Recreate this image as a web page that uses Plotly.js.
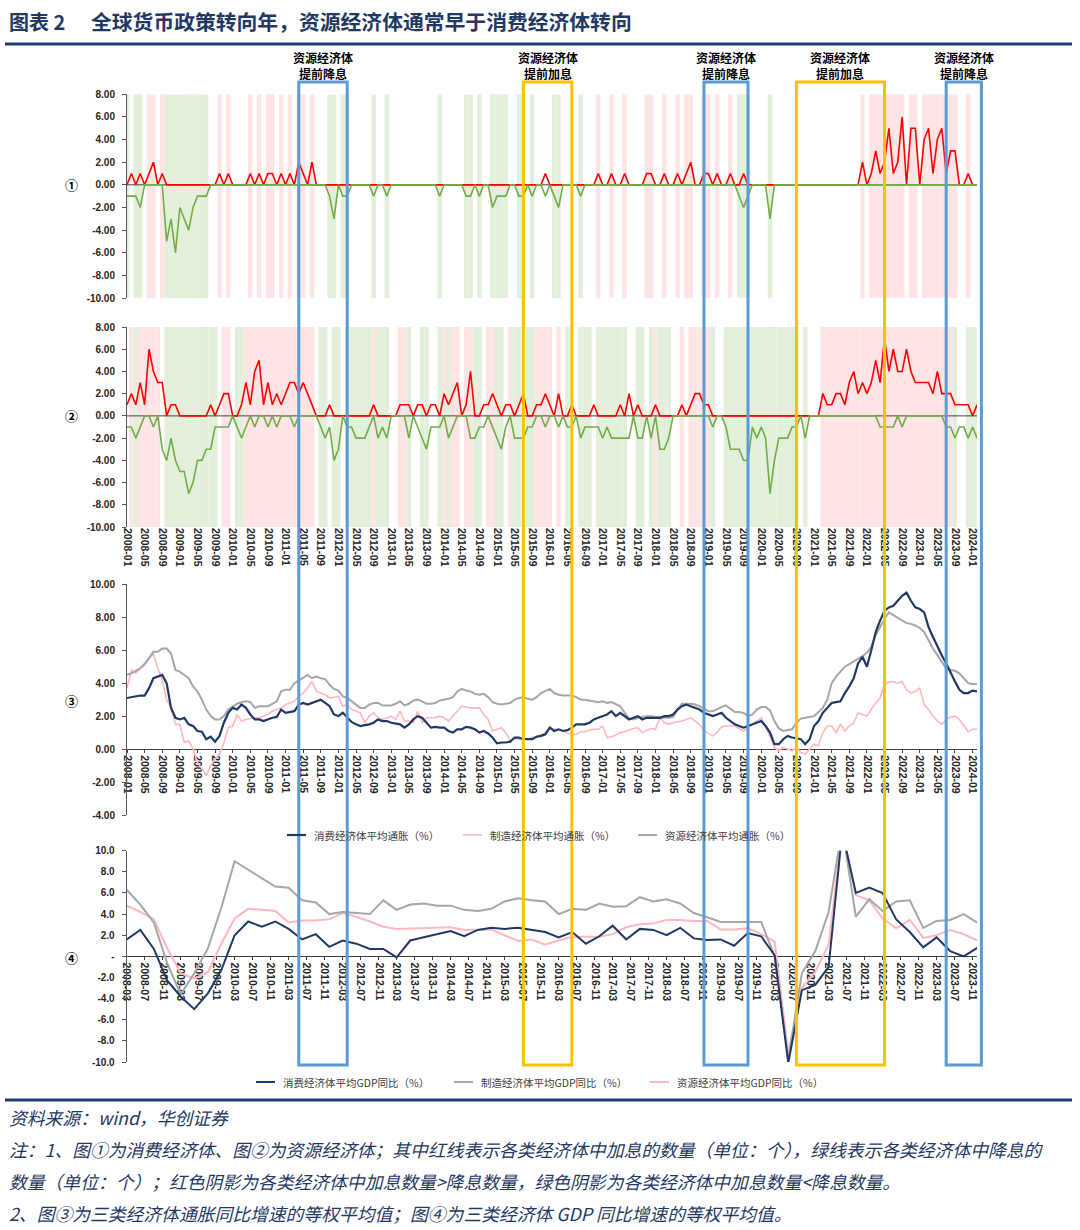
<!DOCTYPE html>
<html><head><meta charset="utf-8">
<script src="https://cdn.plot.ly/plotly-3.0.1.min.js"></script>
<style>html,body{margin:0;padding:0;background:#fff;}#chart{width:1080px;height:1230px;}</style>
</head><body><div id="chart"></div>
<script>
// ---------- categories ----------
const months = [];
for (let y = 2008; y <= 2024; y++) for (let m = 1; m <= 12; m++) if (months.length < 194) months.push(y + '-' + String(m).padStart(2, '0'));
const quarters = [];
for (let y = 2008; y <= 2023; y++) for (const m of [3, 6, 9, 12]) quarters.push(y + '-' + String(m).padStart(2, '0'));

// ---------- panel 1: consumer economies (hikes / cuts count) ----------
const consHikes = [0,1,0,1,0,1,2,0,1,0,0,0, 0,0,0,0,0,0,0,0,0,1,0,1, 0,0,0,0,1,0,1,0,1,1,0,1, 0,1,0,2,1,0,2,0,0,0,0,0,
 0,0,0,0,0,0,0,0,0,0,0,0, 0,0,0,0,0,0,0,0,0,0,0,0, 0,0,0,0,0,0,0,0,0,0,0,0, 0,0,0,0,0,0,0,0,0,0,0,1,
 0,0,0,0,0,0,0,0,0,0,0,1, 0,0,1,0,0,1,0,0,0,0,1,1, 0,0,1,0,0,1,0,1,2,0,0,1, 1,0,1,0,0,1,0,0,1,0,0,0,
 0,0,0,0,0,0,0,0,0,0,0,0, 0,0,0,0,0,0,0,0,0,0,0,2, 0,1,3,1,2,5,1,2,6,0,5,5, 0,4,5,1,4,5,1,3,3,0,0,1, 0,0];
const consCuts = [-1,-1,-1,-2,0,0,0,0,0,-5,-3,-6, -2,-3,-4,-2,-1,-1,-1,0,0,0,0,0, 0,0,0,0,0,0,0,0,0,0,0,0, 0,0,0,0,0,0,0,0,0,0,-1,-3,
 0,-1,-1,0,0,0,0,0,-1,0,0,-1, 0,0,0,0,0,0,0,0,0,0,0,-1, 0,0,0,0,0,-1,-1,0,-1,0,0,-2, -1,-1,-1,0,0,-1,-1,0,-1,0,0,-1,
 0,-1,-2,0,0,0,0,-1,0,0,0,0, 0,0,0,0,0,0,0,0,0,0,0,0, 0,0,0,0,0,0,0,0,0,0,0,0, 0,0,0,0,0,0,0,-1,-2,-1,0,0,
 0,0,-3,0,0,0,0,0,0,0,0,0, 0,0,0,0,0,0,0,0,0,0,0,0, 0,0,0,0,0,0,0,0,0,0,0,0, 0,0,0,0,0,0,0,0,0,0,0,0, 0,0];

// ---------- panel 2: resource economies ----------
const resHikes = [1,2,1,3,1,6,4,3,3,0,1,1, 0,0,0,0,0,0,0,1,0,1,2,2, 0,0,1,3,1,4,5,1,3,1,2,1, 2,3,3,2,3,2,1,0,0,0,1,0,
 0,0,0,0,0,0,0,0,1,0,0,0, 0,0,1,1,1,0,1,1,0,1,1,0, 2,1,2,3,0,1,4,0,0,1,1,2, 1,0,1,1,0,1,2,0,0,1,1,2,
 1,0,2,0,0,1,0,0,0,0,1,0, 0,0,0,0,1,0,2,0,1,0,0,0, 1,0,0,0,0,0,1,0,1,2,2,1, 1,0,0,0,0,0,0,0,0,0,0,0,
 0,0,0,0,0,0,0,0,0,0,0,0, 0,0,2,1,1,2,2,1,3,4,2,3, 2,3,5,3,7,4,6,4,4,6,4,3, 3,3,3,2,4,2,2,2,1,1,1,1, 0,1];
const resCuts = [-1,-1,-2,-1,0,0,-1,0,-3,-4,-2,-4, -5,-5,-7,-6,-4,-4,-3,-3,-1,-1,-1,-1, 0,-1,-2,-1,0,-1,0,0,-1,0,-1,0, 0,0,-1,0,0,0,0,0,-1,-2,-1,-4,
 -3,0,-1,-1,-2,-2,-2,-1,0,-2,-1,-2, 0,0,0,0,-2,0,-1,-2,-3,-1,-1,-1, 0,-2,-1,0,0,0,-2,-2,-1,-1,0,-1, -2,-3,-1,0,-2,-2,-2,-1,-1,0,0,-1,
 0,0,-1,0,-1,-1,0,-2,-1,-1,-1,-1, -2,-1,-2,-2,-2,-2,-2,0,-2,-2,0,-2, 0,-3,-3,-2,0,0,0,0,0,0,0,0, 0,-1,0,0,-1,-3,-3,-3,-4,-4,-1,-2,
 -1,-2,-7,-4,-2,-2,-2,-1,-1,0,-2,0, 0,0,0,0,0,0,0,0,0,0,0,0, 0,0,0,-1,-1,-1,-1,0,-1,0,0,0, 0,0,0,0,0,0,-1,-1,-2,-1,-1,-2, -1,-2];

// ---------- panel 3: average inflation (%) ----------
const cpiCons = [3.1,3.15,3.2,3.25,3.25,3.7,4.3,4.4,4.5,4.0,2.5,1.9, 1.8,1.9,1.5,1.4,1.1,1.05,0.6,0.75,0.45,0.8,1.6,2.2,
 2.5,2.4,2.7,2.5,2.1,1.8,1.8,1.7,1.8,1.9,1.95,2.4, 2.2,2.25,2.3,2.7,2.8,2.7,2.8,2.9,3.0,2.8,2.6,2.1,
 2.0,2.2,1.9,1.65,1.5,1.4,1.45,1.5,1.6,1.8,1.7,1.7, 1.6,1.55,1.5,1.3,1.5,1.8,2.0,1.9,1.6,1.3,1.35,1.3,
 1.3,1.1,1.0,1.2,1.2,1.35,1.3,1.2,1.0,1.1,0.95,0.7, 0.35,0.4,0.4,0.45,0.7,0.7,0.6,0.6,0.6,0.75,0.8,0.9,
 1.3,1.1,1.2,1.1,1.15,1.3,1.5,1.5,1.5,1.6,1.8,1.9, 2.0,2.1,2.3,2.0,2.2,2.0,1.8,1.9,2.0,1.8,1.9,1.9,
 1.9,1.9,2.0,2.0,2.1,2.4,2.6,2.7,2.6,2.5,2.4,2.2, 2.1,2.0,2.1,2.2,1.9,1.7,1.5,1.4,1.3,1.4,1.5,1.6,
 1.7,1.4,1.0,0.3,0.3,0.6,0.8,0.7,0.65,0.6,0.3,0.6, 1.4,1.7,2.2,2.5,2.8,2.85,2.9,3.4,3.8,4.3,5.2,5.6,
 5.0,6.0,7.1,7.8,8.4,8.6,8.7,9.0,9.3,9.5,9.0,8.6, 8.5,8.3,7.4,6.8,6.2,5.7,5.2,4.6,4.1,3.6,3.4,3.4, 3.55,3.5];
const cpiManu = [3.7,4.8,4.6,4.9,5.2,5.5,5.8,4.9,4.2,3.0,2.5,1.5, 1.5,0.4,0.5,0.0,-0.8,-1.2,-1.6,-1.0,-0.6,-0.3,0.4,1.3,
 1.4,2.1,1.7,1.8,1.85,1.9,1.9,2.0,2.1,2.3,2.4,2.5, 2.7,2.8,2.9,3.2,3.4,3.7,4.1,3.5,3.4,3.3,3.1,3.15,
 3.2,2.6,2.7,2.4,2.3,2.2,1.6,2.0,2.2,1.9,1.8,1.9, 2.0,1.8,2.3,1.7,1.7,1.6,2.3,1.6,1.9,1.9,1.9,2.0,
 1.9,1.7,2.0,2.3,2.6,2.55,2.5,2.5,2.5,2.1,1.8,1.1, 1.2,1.3,1.0,0.5,0.65,0.6,0.6,0.6,0.7,0.8,0.85,1.0,
 1.3,1.2,1.2,1.1,1.0,0.85,0.9,1.05,1.05,1.15,1.2,1.2, 1.4,0.7,0.75,0.85,1.0,1.05,1.15,1.25,1.3,1.0,1.15,1.25,
 1.2,1.9,1.6,1.5,1.6,1.65,1.7,1.8,1.9,1.7,1.5,1.1, 0.95,0.8,1.0,1.35,1.4,1.4,1.4,1.25,1.1,1.3,1.5,1.7,
 1.9,1.4,0.7,0.1,-0.1,0.1,0.0,-0.1,0.1,-0.2,-0.3,0.0, 0.3,0.2,1.0,1.4,1.4,1.0,1.5,1.1,1.4,1.6,2.2,2.1,
 2.0,2.4,2.8,3.1,4.0,4.05,4.1,4.0,4.1,3.6,3.4,3.5, 3.7,2.7,2.4,2.0,1.7,1.5,1.8,1.95,2.0,1.8,1.4,1.05, 1.2,1.2];
const cpiRes = [4.5,4.6,4.75,4.9,5.15,5.5,5.9,5.9,6.1,6.1,5.8,4.8, 4.7,4.5,4.3,3.8,3.5,3.0,2.4,2.0,1.8,1.8,2.0,2.4,
 2.6,2.75,2.85,2.9,2.85,2.5,2.6,2.6,2.6,2.75,2.9,3.5, 3.6,3.6,4.0,4.15,4.3,4.5,4.3,4.4,4.3,4.25,3.9,3.65,
 3.55,3.2,3.1,2.9,2.7,2.5,2.5,2.7,2.8,2.8,2.65,2.65, 2.65,2.75,2.9,2.65,2.75,2.95,3.0,2.9,2.75,2.75,2.8,2.95,
 3.0,3.05,3.15,3.5,3.65,3.55,3.5,3.35,3.3,3.35,3.15,2.85, 2.75,2.7,2.75,2.8,3.0,3.1,3.15,3.05,3.0,3.15,3.4,3.55,
 3.65,3.4,3.3,3.25,3.25,3.25,3.15,3.0,3.0,2.95,2.9,2.85, 2.9,2.8,2.85,2.7,2.6,2.2,1.85,1.8,1.9,1.95,2.0,2.0,
 1.95,1.95,1.9,1.9,1.95,2.4,2.75,2.75,2.75,2.7,2.6,2.45, 2.3,2.3,2.45,2.55,2.65,2.45,2.25,2.25,2.2,2.0,2.1,2.4,
 2.55,2.55,2.35,1.7,1.25,1.1,1.15,1.2,1.6,1.85,1.9,1.95, 2.0,2.25,2.5,3.0,4.0,4.4,4.7,5.0,5.15,5.3,5.5,5.65,
 5.85,6.2,6.9,7.4,7.9,8.3,8.15,8.0,7.85,7.65,7.6,7.5, 7.35,7.1,6.6,6.1,5.7,5.3,4.9,4.8,4.75,4.6,4.3,4.0, 3.95,3.95];

// ---------- panel 4: average GDP yoy (%), quarterly ----------
const gdpCons = [1.6,2.5,0.7,-2.3, -3.8,-5.0,-3.5,-1.3, 2.0,3.3,2.8,3.3, 2.6,1.6,2.1,0.9, 1.5,1.2,0.7,0.7, -0.1,1.5,1.8,2.1,
 2.4,1.9,2.5,2.7, 2.6,2.7,2.5,2.3, 1.8,2.3,1.2,1.9, 2.9,1.6,2.6,2.5, 2.0,2.7,1.7,1.55, 1.6,1.0,2.2,1.9,
 0.1,-10.1,-3.2,-2.7, -1.0,11.8,6.0,6.5, 6.0,3.5,2.3,0.85, 1.8,0.5,0.0,0.8];
const gdpManu = [6.3,4.9,3.2,-0.7, -3.6,-1.6,0.75,4.6, 9.0,8.2,7.4,6.6, 6.5,5.3,5.1,4.0, 4.2,4.1,4.0,5.3, 4.4,4.9,5.0,4.8,
 4.8,4.4,4.3,4.5, 5.2,5.5,5.3,5.2, 4.0,4.5,4.4,5.0, 4.7,4.75,5.6,5.2, 5.4,5.0,4.1,3.7, 3.25,3.25,3.25,3.25,
 0.0,-9.7,-1.6,0.5, 4.2,12.2,3.75,5.4, 4.3,5.2,5.3,2.7, 3.35,3.45,4.0,3.2];
const gdpRes = [4.8,4.2,3.5,0.75, -1.6,-2.1,-1.5,1.2, 3.6,4.5,4.4,4.3, 3.2,3.4,3.4,3.5, 4.1,3.75,3.3,2.8, 2.6,2.65,2.7,2.75,
 2.75,2.5,2.5,2.55, 2.0,1.45,1.6,1.1, 1.5,1.85,1.85,1.85, 2.1,2.75,3.05,3.1, 3.45,3.45,3.35,3.35, 2.55,2.55,2.65,2.1,
 1.4,-9.2,-3.0,-1.45, 1.1,12.0,5.8,5.3, 3.6,2.65,3.45,1.75, 2.0,2.5,2.1,1.5];

// ---------- labels ----------
const cpiNames = ['消费经济体平均通胀（%）', '制造经济体平均通胀（%）', '资源经济体平均通胀（%）'];
const gdpNames = ['消费经济体平均GDP同比（%）', '制造经济体平均GDP同比（%）', '资源经济体平均GDP同比（%）'];
const boxStart = ['2011-04', '2015-07', '2018-12', '2020-09', '2023-07'];
const boxEnd   = ['2012-03', '2016-06', '2019-10', '2022-05', '2024-03'];
const boxKind  = ['cut', 'hike', 'cut', 'hike', 'cut'];
const boxText  = {cut: '资源经济体<br>提前降息', hike: '资源经济体<br>提前加息'};
const titleText = '全球货币政策转向年，资源经济体通常早于消费经济体转向';
const notes = ['资料来源：wind，华创证券',
 '注：1、图①为消费经济体、图②为资源经济体；其中红线表示各类经济体中加息的数量（单位：个），绿线表示各类经济体中降息的',
 '数量（单位：个）；红色阴影为各类经济体中加息数量>降息数量，绿色阴影为各类经济体中加息数量<降息数量。',
 '2、图③为三类经济体通胀同比增速的等权平均值；图④为三类经济体 GDP 同比增速的等权平均值。'];

// ---------- style ----------
const W = 1080, H = 1230;
const px = v => v / W, py = v => 1 - v / H;
const COL = {red: '#FF0000', green: '#70AD47', shPink: '#FFE4E6', shGreen: '#E2EFDA', navy: '#203864',
  pink: '#FFB7BE', gray: '#A6A6A6', blue: '#5B9BD5', yellow: '#FFC000', head: '#1F3C78', note: '#1F3864'};
const NUM = 'Liberation Sans, Arial, sans-serif';
const CJK = 'Noto Sans CJK SC, sans-serif';
const idx = s => (+s.slice(0, 4) - 2008) * 12 + (+s.slice(5, 7) - 1);

const D1 = [py(298), py(94.3)], D2 = [py(527), py(327)], D3 = [py(815), py(584.3)], D4 = [py(1062), py(850.7)];
const XD = [px(127), px(977)], XD4 = [px(126.7), px(977.2)];
const zeroPos = (d, r) => d[0] + (0 - r[0]) / (r[1] - r[0]) * (d[1] - d[0]);
const monthPaper = i => XD[0] + i / (months.length - 1) * (XD[1] - XD[0]);

const traces = [];
function ratePanel(hikes, cuts, xa, ya) {
  const pinkY = hikes.map((h, i) => h > -cuts[i] ? 18 : null);
  const greenY = hikes.map((h, i) => h < -cuts[i] ? 18 : null);
  for (const [yy, c] of [[pinkY, COL.shPink], [greenY, COL.shGreen]])
    traces.push({type: 'bar', x: months, y: yy, base: -10, width: 1.02, marker: {color: c, line: {width: 0}},
      xaxis: xa, yaxis: ya, hoverinfo: 'skip', showlegend: false});
  traces.push({type: 'scatter', mode: 'lines', x: [months[0], months[months.length - 1]], y: [0, 0],
    line: {color: '#404040', width: 1}, xaxis: xa, yaxis: ya, hoverinfo: 'skip', showlegend: false});
  traces.push({type: 'scatter', mode: 'lines', x: months, y: hikes, line: {color: COL.red, width: 1.6},
    xaxis: xa, yaxis: ya, showlegend: false});
  traces.push({type: 'scatter', mode: 'lines', x: months, y: cuts, line: {color: COL.green, width: 1.6},
    xaxis: xa, yaxis: ya, showlegend: false});
}
ratePanel(consHikes, consCuts, 'x', 'y');
ratePanel(resHikes, resCuts, 'x2', 'y2');

const cpiSeries = [[cpiManu, COL.pink, 1.6], [cpiRes, COL.gray, 2], [cpiCons, COL.navy, 2.2]];
for (const [s, c, w] of cpiSeries)
  traces.push({type: 'scatter', mode: 'lines', x: months, y: s, line: {color: c, width: w}, xaxis: 'x3', yaxis: 'y3', showlegend: false});
const gdpSeries = [[gdpRes, COL.pink, 2], [gdpManu, COL.gray, 2], [gdpCons, COL.navy, 2]];
for (const [s, c, w] of gdpSeries)
  traces.push({type: 'scatter', mode: 'lines', x: quarters, y: s, line: {color: c, width: w}, xaxis: 'x4', yaxis: 'y4', showlegend: false});

// ---------- axes ----------
const tickMonths = months.filter((m, i) => i % 4 === 0);
const tickFont = {family: NUM, size: 10.5, color: '#262626', weight: 700};
const yFont = {family: NUM, size: 10, color: '#262626', weight: 700};
function yAx(dom, rng, step, dec, anchor, zeroDash) {
  const vals = []; for (let v = rng[0]; v <= rng[1] + 1e-9; v += step) vals.push(v);
  return {domain: dom, range: rng, anchor: anchor, tickmode: 'array', tickvals: vals,
    ticktext: vals.map(v => (zeroDash && v === 0) ? '-' : v.toFixed(dec)),
    ticks: 'outside', ticklen: 4, tickcolor: '#595959', showline: true, linecolor: '#595959', linewidth: 1,
    showgrid: false, zeroline: false, tickfont: yFont, ticklabelstandoff: 5, fixedrange: true};
}
const xBase = {type: 'category', range: [0, months.length - 1], domain: XD, showgrid: false, zeroline: false, fixedrange: true};
const R12 = [-10, 8], R3 = [-4, 10], R4 = [-10, 10];

const layout = {
  width: W, height: H, margin: {l: 0, r: 0, t: 0, b: 0}, paper_bgcolor: '#fff', plot_bgcolor: 'rgba(0,0,0,0)',
  showlegend: false, barmode: 'overlay', hovermode: false, font: {family: CJK},
  xaxis: Object.assign({}, xBase, {anchor: 'y', showticklabels: false, ticks: '', showline: false}),
  yaxis: yAx(D1, R12, 2, 2, 'x'),
  xaxis2: Object.assign({}, xBase, {anchor: 'y2', showline: false, ticks: '', tickmode: 'array', tickvals: tickMonths,
    ticktext: tickMonths, tickangle: 90, tickfont: tickFont}),
  yaxis2: yAx(D2, R12, 2, 2, 'x2'),
  xaxis3: Object.assign({}, xBase, {anchor: 'free', position: zeroPos(D3, R3), showline: true, linecolor: '#404040',
    ticks: 'outside', ticklen: 3, tickcolor: '#404040', tickmode: 'array', tickvals: tickMonths, ticktext: tickMonths,
    tickangle: 90, tickfont: tickFont, layer: 'below traces'}),
  yaxis3: yAx(D3, R3, 2, 2, 'x3'),
  xaxis4: {type: 'date', domain: XD4, anchor: 'free', position: zeroPos(D4, R4), range: ['2008-03-01', '2023-12-01'],
    tick0: '2008-03-01', dtick: 'M4', tickformat: '%Y-%m', tickangle: 90, tickfont: tickFont, showline: true,
    linecolor: '#404040', ticks: 'outside', ticklen: 3, tickcolor: '#404040', showgrid: false, zeroline: false,
    layer: 'below traces', fixedrange: true},
  yaxis4: yAx(D4, R4, 2, 1, 'x4', true),
  shapes: [], annotations: []
};

// header / footer rules
layout.shapes.push({type: 'line', xref: 'paper', yref: 'paper', x0: px(5), x1: px(1072), y0: py(44), y1: py(44), line: {color: COL.head, width: 3}});
layout.shapes.push({type: 'line', xref: 'paper', yref: 'paper', x0: px(5), x1: px(1072), y0: py(1100), y1: py(1100), line: {color: COL.head, width: 3}});

// highlight boxes (placed on the shared monthly axis scale, in paper units so nothing is clipped)
boxStart.forEach((s, i) => {
  const a = monthPaper(idx(s)), b = monthPaper(idx(boxEnd[i]));
  const c = boxKind[i] === 'cut' ? COL.blue : COL.yellow;
  layout.shapes.push({type: 'rect', xref: 'paper', yref: 'paper', x0: a, x1: b, y0: py(1065), y1: py(82),
    line: {color: c, width: 3}, fillcolor: 'rgba(0,0,0,0)', layer: 'above'});
  layout.annotations.push({xref: 'paper', yref: 'paper', x: (a + b) / 2, y: py(65), text: boxText[boxKind[i]],
    showarrow: false, xanchor: 'center', yanchor: 'middle', font: {family: CJK, size: 12, color: '#000', weight: 700}});
});

// title
layout.annotations.push({xref: 'paper', yref: 'paper', x: px(7), y: py(21), text: '图表 2', showarrow: false,
  xanchor: 'left', yanchor: 'middle', font: {family: CJK, size: 20, color: COL.note, weight: 700}});
layout.annotations.push({xref: 'paper', yref: 'paper', x: px(89), y: py(21), text: titleText, showarrow: false,
  xanchor: 'left', yanchor: 'middle', font: {family: CJK, size: 20.8, color: COL.note, weight: 700}});

// panel numbers
[['①', 185], ['②', 416], ['③', 700], ['④', 957]].forEach(([t, y]) =>
  layout.annotations.push({xref: 'paper', yref: 'paper', x: px(71), y: py(y), text: t, showarrow: false,
    xanchor: 'center', yanchor: 'middle', font: {family: CJK, size: 13, color: '#000', weight: 700}}));

// legends
function legendItem(x0, y, color, w, text) {
  layout.shapes.push({type: 'line', xref: 'paper', yref: 'paper', x0: px(x0), x1: px(x0 + 19), y0: py(y), y1: py(y), line: {color: color, width: w}});
  layout.annotations.push({xref: 'paper', yref: 'paper', x: px(x0 + 25), y: py(y), text: text, showarrow: false,
    xanchor: 'left', yanchor: 'middle', font: {family: CJK, size: 10.5, color: '#404040'}});
}
legendItem(287, 835, COL.navy, 2.2, cpiNames[0]);
legendItem(463, 835, COL.pink, 1.6, cpiNames[1]);
legendItem(638, 835, COL.gray, 2, cpiNames[2]);
legendItem(256, 1082, COL.navy, 2, gdpNames[0]);
legendItem(454, 1082, COL.gray, 2, gdpNames[1]);
legendItem(650, 1082, COL.pink, 2, gdpNames[2]);

// notes
[1117, 1149, 1181, 1213].forEach((y, i) =>
  layout.annotations.push({xref: 'paper', yref: 'paper', x: px(7), y: py(y), text: notes[i], showarrow: false,
    xanchor: 'left', yanchor: 'middle', font: {family: CJK, size: 17.8, color: COL.note, style: 'italic'}}));

Plotly.newPlot('chart', traces, layout, {staticPlot: true, displayModeBar: false});
</script></body></html>
